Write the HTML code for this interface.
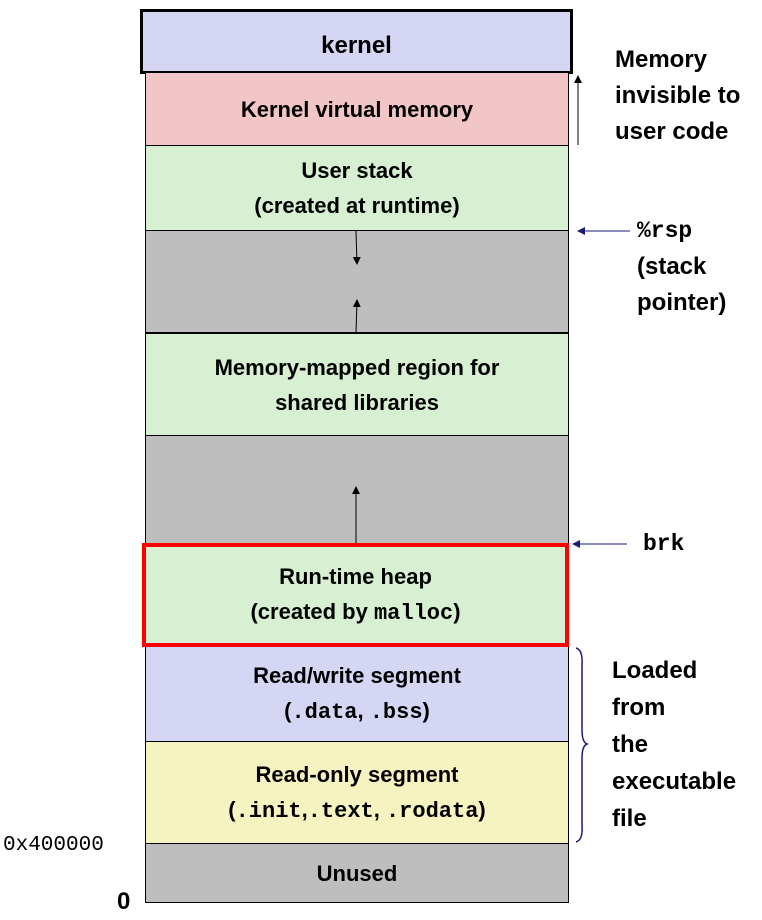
<!DOCTYPE html>
<html><head><style>
body{margin:0;width:762px;height:914px;background:#fff;position:relative;font-family:"Liberation Sans",sans-serif;overflow:hidden}
.b{position:absolute;left:145px;width:424px;box-sizing:border-box;border:1px solid #000;display:flex;align-items:center;justify-content:center;text-align:center;font-weight:bold;font-size:22px;line-height:35px;color:#000}
.b>div{white-space:nowrap}
.m{font-family:"Liberation Mono",monospace;font-weight:bold}
.t{position:absolute;font-weight:bold;font-size:24px;line-height:36px}
</style></head><body>
<div class="b" style="left:140px;width:433px;top:9px;height:65px;background:#d5d6f4;border:3px solid #000;font-size:24px;padding-top:8px"><div>kernel</div></div>
<div class="b" style="top:73px;height:73px;background:#f2c6c6;border-top:none"><div>Kernel virtual memory</div></div>
<div class="b" style="top:145px;height:86px;background:#d6f0d1"><div>User stack<br>(created at runtime)</div></div>
<div class="b" style="top:230px;height:104px;background:#bebebe;border-bottom:2px solid #000"></div>
<div class="b" style="top:333px;height:103px;background:#d6f0d1"><div>Memory-mapped region for<br>shared libraries</div></div>
<div class="b" style="top:435px;height:109px;background:#bebebe"></div>
<div class="b" style="top:645px;height:97px;background:#d5d6f4"><div>Read/write segment<br>(<span class="m">.data</span>, <span class="m">.bss</span>)</div></div>
<div class="b" style="top:741px;height:103px;background:#f5f3bf"><div>Read-only segment<br>(<span class="m">.init</span>,<span class="m">.text</span>, <span class="m">.rodata</span>)</div></div>
<div class="b" style="top:843px;height:60px;background:#bebebe"><div>Unused</div></div>
<div class="b" style="left:142px;width:427px;top:543px;height:104px;background:#d6f0d1;border:4px solid #f00"><div>Run-time heap<br>(created by <span class="m">malloc</span>)</div></div>
<svg width="762" height="914" style="position:absolute;left:0;top:0">
<defs><marker id="a" markerWidth="8" markerHeight="8" refX="7" refY="4" orient="auto"><path d="M0,0L8,4L0,8z" fill="#000"/></marker>
<marker id="n" markerWidth="8" markerHeight="8" refX="7" refY="4" orient="auto"><path d="M0,0L8,4L0,8z" fill="#1a1a7a"/></marker></defs>
<line x1="356" y1="231" x2="357" y2="264" stroke="#000" marker-end="url(#a)"/>
<line x1="356" y1="333" x2="357" y2="300" stroke="#000" marker-end="url(#a)"/>
<line x1="356" y1="543" x2="356" y2="487" stroke="#000" marker-end="url(#a)"/>
<line x1="578" y1="145" x2="578" y2="76" stroke="#000" marker-end="url(#a)"/>
<line x1="630" y1="231" x2="578" y2="231" stroke="#1a1a7a" marker-end="url(#n)"/>
<line x1="627" y1="544" x2="573" y2="544" stroke="#1a1a7a" marker-end="url(#n)"/>
<path d="M576,648 Q583,650 582,665 L582,730 Q582,742 587,744 Q582,746 582,758 L582,826 Q583,840 576,842" fill="none" stroke="#1a1a7a" stroke-width="1.5"/>
</svg>
<div class="t" style="left:615px;top:42px">Memory<br>invisible to<br>user code</div>
<div class="t" style="left:637px;top:212px"><span class="m" style="font-size:23px">%rsp</span><br>(stack<br>pointer)</div>
<div class="t m" style="left:643px;top:526px;font-size:23px">brk</div>
<div class="t" style="left:612px;top:652px;line-height:37px">Loaded<br>from<br>the<br>executable<br>file</div>
<div class="t m" style="left:3px;top:828px;font-size:21px;font-weight:normal">0x400000</div>
<div class="t" style="left:117px;top:884px">0</div>
</body></html>
